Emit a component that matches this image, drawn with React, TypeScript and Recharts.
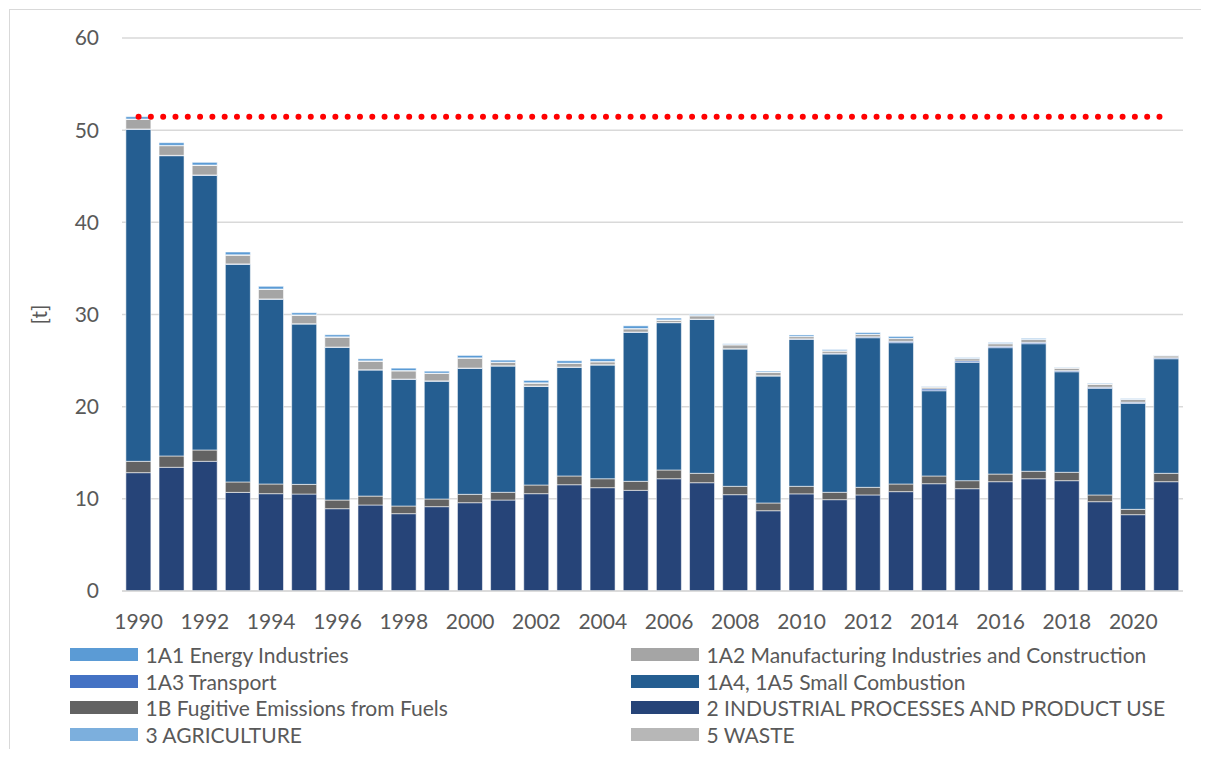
import React from 'react';
import { ComposedChart, Bar, Line, XAxis, YAxis, CartesianGrid } from 'recharts';

const years = ['1990','1991','1992','1993','1994','1995','1996','1997','1998','1999','2000','2001','2002','2003','2004','2005','2006','2007','2008','2009','2010','2011','2012','2013','2014','2015','2016','2017','2018','2019','2020','2021'];

// 2 INDUSTRIAL PROCESSES AND PRODUCT USE
const industrial = [12.84,13.42,14.07,10.70,10.56,10.52,8.93,9.33,8.39,9.15,9.58,9.87,10.56,11.53,11.21,10.92,12.18,11.75,10.45,8.71,10.54,9.91,10.42,10.78,11.64,11.10,11.86,12.18,11.97,9.69,8.28,11.86];
// 1B Fugitive Emissions from Fuels
const fugitive = [1.23,1.23,1.23,1.13,1.05,1.05,0.94,0.97,0.83,0.83,0.91,0.84,0.94,0.95,0.97,0.98,0.95,1.02,0.91,0.84,0.82,0.80,0.83,0.83,0.84,0.87,0.83,0.81,0.91,0.73,0.58,0.91];
// 1A4, 1A5 Small Combustion
const smallCombustion = [36.02,32.58,29.80,23.62,20.04,17.40,16.57,13.68,13.75,12.79,13.67,13.70,10.70,11.79,12.34,16.17,15.98,16.70,14.90,13.78,15.95,15.00,16.23,15.33,9.25,12.84,13.71,13.84,10.91,11.57,11.50,12.43];
// 1A3 Transport
const transport = [0.04,0.04,0.04,0.04,0.04,0.03,0.03,0.03,0.03,0.03,0.03,0.03,0.03,0.03,0.03,0.03,0.03,0.03,0.03,0.03,0.05,0.08,0.10,0.15,0.20,0.15,0.15,0.15,0.12,0.12,0.12,0.10];
// 1A2 Manufacturing Industries and Construction
const manufacturing = [1.05,1.05,1.05,0.96,1.04,0.93,1.08,0.93,0.89,0.81,1.08,0.36,0.33,0.39,0.32,0.35,0.25,0.36,0.42,0.36,0.24,0.25,0.25,0.30,0.20,0.25,0.28,0.30,0.28,0.33,0.30,0.22];
// 3 AGRICULTURE
const agriculture = [0.01,0.01,0.01,0.01,0.01,0.01,0.01,0.01,0.01,0.01,0.01,0.01,0.01,0.01,0.01,0.01,0.01,0.01,0.01,0.01,0.01,0.01,0.01,0.01,0.01,0.01,0.01,0.01,0.01,0.01,0.01,0.01];
// 5 WASTE
const waste = [0.02,0.02,0.02,0.02,0.02,0.02,0.02,0.02,0.02,0.02,0.02,0.02,0.02,0.02,0.02,0.02,0.02,0.02,0.02,0.02,0.02,0.02,0.02,0.02,0.02,0.02,0.02,0.02,0.02,0.02,0.02,0.02];
// 1A1 Energy Industries
const energy = [0.25,0.29,0.29,0.30,0.30,0.23,0.22,0.22,0.26,0.21,0.26,0.22,0.26,0.26,0.29,0.29,0.19,0.12,0.08,0.11,0.15,0.12,0.18,0.20,0.05,0.08,0.10,0.10,0.05,0.07,0.07,0.03];

// Level of the 1990 total shown as the red dotted line
const referenceLevel = 51.46;

const yTicks = [0, 10, 20, 30, 40, 50, 60];

const stackSeries = [
  { key: 'industrial', values: industrial, color: '#264478' },
  { key: 'fugitive', values: fugitive, color: '#636363' },
  { key: 'smallCombustion', values: smallCombustion, color: '#255E91' },
  { key: 'transport', values: transport, color: '#4472C4' },
  { key: 'manufacturing', values: manufacturing, color: '#A5A5A5' },
  { key: 'agriculture', values: agriculture, color: '#7CAFDD' },
  { key: 'waste', values: waste, color: '#B7B7B7' },
  { key: 'energy', values: energy, color: '#5B9BD5' },
];

const legendItems = [
  { name: '1A1 Energy Industries', color: '#5B9BD5' },
  { name: '1A2 Manufacturing Industries and Construction', color: '#A5A5A5' },
  { name: '1A3 Transport', color: '#4472C4' },
  { name: '1A4, 1A5 Small Combustion', color: '#255E91' },
  { name: '1B Fugitive Emissions from Fuels', color: '#636363' },
  { name: '2 INDUSTRIAL PROCESSES AND PRODUCT USE', color: '#264478' },
  { name: '3 AGRICULTURE', color: '#7CAFDD' },
  { name: '5 WASTE', color: '#B7B7B7' },
];

const data = years.map((year, i) => {
  const row: Record<string, string | number> = { year, target: referenceLevel };
  stackSeries.forEach((s) => {
    row[s.key] = s.values[i];
  });
  return row;
});

const FONT = 'Lato, "Open Sans", sans-serif';
const TEXT = '#595959';
const FS = 21;

export default function App() {
  return (
    <div
      style={{
        position: 'relative',
        width: 1200,
        height: 740,
        marginLeft: 1,
        marginTop: 1,
        borderTop: '1.5px solid #D9D9D9',
        borderLeft: '1.5px solid #D9D9D9',
        boxSizing: 'border-box',
        fontFamily: FONT,
      }}
    >
      <div style={{ position: 'absolute', left: -2.5, top: -2.5 }}>
        <ComposedChart
          width={1190}
          height={640}
          data={data}
          margin={{ top: 30, right: 15, bottom: 27, left: 34 }}
          barCategoryGap="11.7%"
        >
          <CartesianGrid vertical={false} stroke="#D9D9D9" strokeWidth={1.5} />
          <XAxis
            dataKey="year"
            interval={1}
            tickLine={false}
            axisLine={{ stroke: '#D9D9D9', strokeWidth: 1.5 }}
            tickSize={6}
            tickMargin={17}
            height={30}
            tick={{ fill: TEXT, fontSize: FS, fontFamily: FONT }}
          />
          <YAxis
            domain={[0, 60]}
            ticks={yTicks}
            interval={0}
            axisLine={false}
            tickLine={false}
            tickSize={6}
            tickMargin={17}
            width={80}
            tick={{ fill: TEXT, fontSize: FS, fontFamily: FONT }}
            label={{
              value: '[t]',
              angle: -90,
              position: 'insideLeft',
              offset: -2,
              style: { textAnchor: 'middle', fill: TEXT, fontSize: FS, fontFamily: FONT },
            }}
          />
          {stackSeries.map((s) => (
            <Bar
              key={s.key}
              dataKey={s.key}
              stackId="a"
              fill={s.color}
              stroke="#FFFFFF"
              strokeOpacity={0.55}
              strokeWidth={1}
              isAnimationActive={false}
            />
          ))}
          <Line
            dataKey="target"
            stroke="#FF0000"
            strokeWidth={6}
            strokeDasharray="0 12.3"
            strokeLinecap="round"
            dot={false}
            activeDot={false}
            isAnimationActive={false}
          />
        </ComposedChart>
      </div>
      <div style={{ position: 'absolute', left: -2.5, top: 631.5, width: 1190 }}>
        {legendItems.map((item, i) => {
          const col = i % 2;
          const row = Math.floor(i / 2);
          return (
            <div
              key={item.name}
              style={{
                position: 'absolute',
                left: col === 0 ? 62 : 623,
                top: row * 26.7,
                height: 26,
                display: 'flex',
                alignItems: 'center',
                whiteSpace: 'nowrap',
              }}
            >
              <span style={{ display: 'inline-block', width: 68, height: 13, background: item.color, marginRight: 8 }} />
              <span style={{ color: TEXT, fontSize: FS, fontFamily: FONT }}>{item.name}</span>
            </div>
          );
        })}
      </div>
    </div>
  );
}
